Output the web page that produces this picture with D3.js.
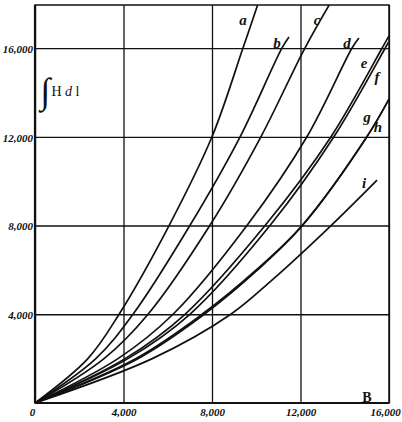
<!DOCTYPE html>
<html>
<head>
<meta charset="utf-8">
<script src="https://cdn.jsdelivr.net/npm/d3@7"></script>
<style>
  body { margin: 0; background: #fff; overflow: hidden; }
  svg { display: block; }
  .tick text { font-family: "Liberation Serif", "DejaVu Serif", serif; font-style: italic; font-weight: bold; }
</style>
</head>
<body>
<div id="chart"></div>
<script>
// curve names
var curveNames = ['a', 'b', 'c', 'd', 'e', 'f', 'g', 'h', 'i'];

// each curve as [B, integral H dl] points
var curveA = [[0,0],[2390,2000],[3800,4000],[6060,8000],[8000,12000],[9400,16000],[10150,18200]];
var curveB = [[0,0],[2750,2000],[4430,4000],[7000,8000],[9270,12000],[11160,16000],[11480,16500]];
var curveC = [[0,0],[3120,2000],[5110,4000],[7900,8000],[10210,12000],[12200,16000],[13450,18200]];
var curveD = [[0,0],[3750,2000],[6240,4000],[9580,8000],[12290,12000],[14330,16000],[14640,16450]];
var curveE = [[0,0],[4070,2000],[6780,4000],[10400,8000],[13380,12000],[15690,16000],[16000,16550]];
var curveF = [[0,0],[4200,2000],[7000,4000],[10620,8000],[13510,12000],[15830,16000],[16000,16300]];
var curveG = [[0,0],[4550,2000],[7550,4000],[10000,6000],[12070,8000],[15000,12000],[16000,13700]];
var curveH = [[0,0],[4650,2000],[7650,4000],[10060,6000],[12090,8000],[15000,12000],[16000,13700]];
var curveI = [[0,0],[5300,2000],[8850,4000],[10710,5540],[13380,8000],[15460,10050]];

// label anchors (B, H)
var labelB = [9400, 10940, 12750, 14100, 14870, 15460, 15010, 15500, 14870];
var labelH = [17220, 16225, 17260, 16225, 15320, 14690, 12890, 12440, 9910];

var xTicks = [0, 4000, 8000, 12000, 16000];
var yTicks = [4000, 8000, 12000, 16000];

var curves = [curveA, curveB, curveC, curveD, curveE, curveF, curveG, curveH, curveI];

var W = 402, H = 422;
var mLeft = 35, mRight = 389, mTop = 5, mBottom = 403;

var x = d3.scaleLinear().domain([0, 16000]).range([mLeft, mRight]);
var y = d3.scaleLinear().domain([0, 17940]).range([mBottom, mTop]);

var svg = d3.select("#chart").append("svg")
  .attr("width", W)
  .attr("height", H);

svg.append("defs").append("clipPath").attr("id", "plot")
  .append("rect")
  .attr("x", mLeft).attr("y", mTop)
  .attr("width", mRight - mLeft).attr("height", mBottom - mTop);

// grid with axes
var fmt = d3.format(",");

var xAxis = d3.axisBottom(x).tickValues(xTicks)
  .tickSizeInner(-(mBottom - mTop)).tickSizeOuter(0).tickPadding(5)
  .tickFormat(fmt);
var yAxis = d3.axisLeft(y).tickValues(yTicks)
  .tickSizeInner(-(mRight - mLeft)).tickSizeOuter(0).tickPadding(2)
  .tickFormat(fmt);

var gx = svg.append("g")
  .attr("transform", "translate(0," + mBottom + ")")
  .call(xAxis);
gx.select(".domain").remove();
gx.selectAll(".tick line").attr("stroke", "#111").attr("stroke-width", 1.3);
gx.selectAll(".tick text").attr("font-size", 11).attr("fill", "#111");
gx.selectAll(".tick").filter(function(d){ return d == 0; }).select("text").attr("dx", -3);
gx.selectAll(".tick").filter(function(d){ return d == 16000; }).select("text").attr("dx", -4);

var gy = svg.append("g")
  .attr("transform", "translate(" + mLeft + ",0)")
  .call(yAxis);
gy.select(".domain").remove();
gy.selectAll(".tick line").attr("stroke", "#111").attr("stroke-width", 1.3);
gy.selectAll(".tick text").attr("font-size", 11).attr("fill", "#111").attr("dy", "0.4em");

// frame
svg.append("rect")
  .attr("x", mLeft).attr("y", mTop)
  .attr("width", mRight - mLeft).attr("height", mBottom - mTop)
  .attr("fill", "none").attr("stroke", "#111").attr("stroke-width", 1.5);
svg.append("line")
  .attr("x1", mLeft).attr("x2", mLeft).attr("y1", mTop).attr("y2", mBottom)
  .attr("stroke", "#111").attr("stroke-width", 2.2);
svg.append("line")
  .attr("x1", mLeft).attr("x2", mRight).attr("y1", mBottom).attr("y2", mBottom)
  .attr("stroke", "#111").attr("stroke-width", 2.2);

// curves
var line = d3.line()
  .x(function(d) { return x(d[0]); })
  .y(function(d) { return y(d[1]); })
  .curve(d3.curveCatmullRom.alpha(0.5));

svg.append("g").attr("clip-path", "url(#plot)")
  .selectAll("path")
  .data(curves)
  .enter()
  .append("path")
  .attr("d", line)
  .attr("fill", "none")
  .attr("stroke", "#111")
  .attr("stroke-width", 1.7);

// curve labels
svg.selectAll("text.lab")
  .data(curveNames)
  .enter()
  .append("text")
  .attr("class", "lab")
  .attr("x", function(d, i) { return x(labelB[i]); })
  .attr("y", function(d, i) { return y(labelH[i]); })
  .attr("dy", "0.3em")
  .attr("text-anchor", "middle")
  .attr("font-family", "Liberation Serif, DejaVu Serif, serif")
  .attr("font-style", "italic")
  .attr("font-weight", "bold")
  .attr("font-size", 15)
  .attr("fill", "#111")
  .text(function(d) { return d; });

// axis names
svg.append("text")
  .attr("x", x(15000)).attr("y", y(0) - 1)
  .attr("text-anchor", "middle")
  .attr("font-family", "Liberation Serif, DejaVu Serif, serif")
  .attr("font-weight", "bold")
  .attr("font-size", 14)
  .attr("fill", "#111")
  .text("B");

var yl = svg.append("text")
  .attr("x", x(250)).attr("y", y(14000))
  .attr("font-family", "Liberation Serif, DejaVu Serif, serif")
  .attr("fill", "#111");
yl.append("tspan").attr("font-size", 36).attr("font-style", "italic").attr("dy", "0.3em").text("∫");
yl.append("tspan").attr("font-size", 14).attr("dy", "-0.55em").attr("dx", 1).text("H ");
yl.append("tspan").attr("font-size", 14).attr("font-style", "italic").text("d ");
yl.append("tspan").attr("font-size", 14).text("l");
</script>
</body>
</html>
